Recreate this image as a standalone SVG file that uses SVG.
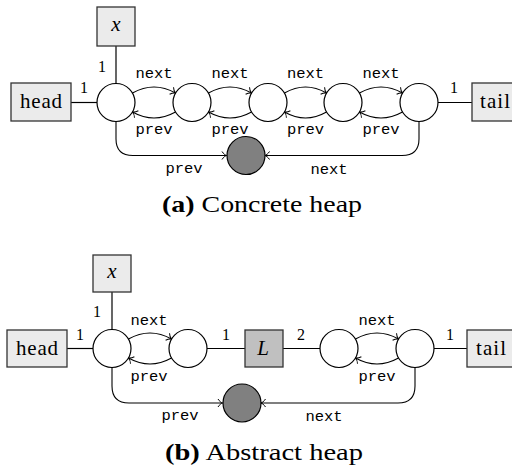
<svg xmlns="http://www.w3.org/2000/svg" width="512" height="467" viewBox="0 0 512 467">
  <defs>
    <marker id="to" markerUnits="userSpaceOnUse" markerWidth="12" markerHeight="12" refX="0" refY="0" viewBox="-8 -6 10 12" orient="auto" overflow="visible">
      <path d="M-4.5,-4 C-3,-1.6 -1.2,-0.4 0,0 C-1.2,0.4 -3,1.6 -4.5,4" fill="none" stroke="#000" stroke-width="1"/>
    </marker>
    <style>
      .cell { fill: #fff; stroke: #000; stroke-width: 1.2; }
      .nil { fill: #808080; stroke: #000; stroke-width: 1.2; }
      .var { fill: #ebebeb; stroke: #333; stroke-width: 1.3; }
      .sum { fill: #c0c0c0; stroke: #333; stroke-width: 1.3; }
      .edge { fill: none; stroke: #000; stroke-width: 1.2; }
      .ptr { fill: none; stroke: #000; stroke-width: 1.1; marker-end: url(#to); }
      .field { font-family: 'Liberation Mono', 'DejaVu Sans Mono', monospace; font-size: 15.5px; text-anchor: middle; fill: #000; }
      .name, .math, .mult, .cap { font-family: 'Liberation Serif', 'DejaVu Serif', 'Times New Roman', Times, serif; fill: #000; }
      .name { font-size: 21px; text-anchor: middle; }
      .math { font-style: italic; font-size: 21px; text-anchor: middle; }
      .mult { font-size: 16px; text-anchor: middle; }
      .cap { font-size: 24px; }
    </style>
  </defs>

  <!-- (a) concrete heap -->
  <g id="concrete-edges">
    <line class="edge" x1="116" y1="46" x2="116" y2="83.5"/>
    <line class="edge" x1="71" y1="102.5" x2="97" y2="102.5"/>
    <line class="edge" x1="438" y1="102.5" x2="472" y2="102.5"/>
    <path class="ptr" d="M132.5,93 Q154,81 175.5,93"/>
    <path class="ptr" d="M208.5,93 Q230,81 251.5,93"/>
    <path class="ptr" d="M284.5,93 Q305.5,81 326.5,93"/>
    <path class="ptr" d="M359.5,93 Q381,81 402.5,93"/>
    <path class="ptr" d="M175.5,112 Q154,124 132.5,112"/>
    <path class="ptr" d="M251.5,112 Q230,124 208.5,112"/>
    <path class="ptr" d="M326.5,112 Q305.5,124 284.5,112"/>
    <path class="ptr" d="M402.5,112 Q381,124 359.5,112"/>
    <path class="ptr" d="M116,121.5 V139 Q116,155.5 133,155.5 H226.5"/>
    <path class="ptr" d="M419,121.5 V139 Q419,155.5 402,155.5 H265"/>
  </g>
  <g id="concrete-labels">
    <text class="mult" x="102" y="72">1</text>
    <text class="mult" x="84" y="93">1</text>
    <text class="mult" x="454" y="93">1</text>
    <text class="field" x="154" y="78">next</text>
    <text class="field" x="230" y="78">next</text>
    <text class="field" x="305.5" y="78">next</text>
    <text class="field" x="381" y="78">next</text>
    <text class="field" x="154" y="134">prev</text>
    <text class="field" x="230" y="134">prev</text>
    <text class="field" x="305.5" y="134">prev</text>
    <text class="field" x="381" y="134">prev</text>
    <text class="field" x="184" y="173">prev</text>
    <text class="field" x="329" y="174">next</text>
  </g>
  <g id="a-x"><rect class="var" x="97" y="7" width="38" height="39"/><text class="math" x="116" y="31">x</text></g>
  <g id="a-head"><rect class="var" x="11" y="83" width="60" height="38"/><text class="name" x="41" y="108" textLength="42">head</text></g>
  <g id="a-tail"><rect class="var" x="472" y="83" width="50" height="38"/><text class="name" x="495" y="108" textLength="30">tail</text></g>
  <g id="a-n1"><circle class="cell" cx="116" cy="102.5" r="19"/></g>
  <g id="a-n2"><circle class="cell" cx="192" cy="102.5" r="19"/></g>
  <g id="a-n3"><circle class="cell" cx="268" cy="102.5" r="19"/></g>
  <g id="a-n4"><circle class="cell" cx="343" cy="102.5" r="19"/></g>
  <g id="a-n5"><circle class="cell" cx="419" cy="102.5" r="19"/></g>
  <g id="a-nil"><circle class="nil" cx="246" cy="155.5" r="19"/></g>
  <text class="cap" x="162" y="212" textLength="200" lengthAdjust="spacingAndGlyphs"><tspan font-weight="bold">(a)</tspan> Concrete heap</text>

  <!-- (b) abstract heap -->
  <g id="abstract-edges">
    <line class="edge" x1="112" y1="292" x2="112" y2="329.5"/>
    <line class="edge" x1="67" y1="348.5" x2="93" y2="348.5"/>
    <line class="edge" x1="207" y1="348.5" x2="245" y2="348.5"/>
    <line class="edge" x1="283" y1="348.5" x2="320" y2="348.5"/>
    <line class="edge" x1="434" y1="348.5" x2="467" y2="348.5"/>
    <path class="ptr" d="M128.5,339 Q150,327 171.5,339"/>
    <path class="ptr" d="M171.5,358 Q150,370 128.5,358"/>
    <path class="ptr" d="M355.5,339 Q377,327 398.5,339"/>
    <path class="ptr" d="M398.5,358 Q377,370 355.5,358"/>
    <path class="ptr" d="M112,367.5 V386 Q112,403 129,403 H222.5"/>
    <path class="ptr" d="M415,367.5 V386 Q415,403 398,403 H261"/>
  </g>
  <g id="abstract-labels">
    <text class="mult" x="97" y="317">1</text>
    <text class="mult" x="80" y="340">1</text>
    <text class="mult" x="226" y="340">1</text>
    <text class="mult" x="301" y="340">2</text>
    <text class="mult" x="450" y="340">1</text>
    <text class="field" x="149" y="325">next</text>
    <text class="field" x="149" y="381">prev</text>
    <text class="field" x="377" y="325">next</text>
    <text class="field" x="377" y="381">prev</text>
    <text class="field" x="180" y="420">prev</text>
    <text class="field" x="324" y="421">next</text>
  </g>
  <g id="b-x"><rect class="var" x="93" y="255" width="38" height="37"/><text class="math" x="112" y="278">x</text></g>
  <g id="b-head"><rect class="var" x="7" y="330" width="60" height="37"/><text class="name" x="37" y="355" textLength="42">head</text></g>
  <g id="b-tail"><rect class="var" x="467" y="330" width="50" height="37"/><text class="name" x="491" y="355" textLength="30">tail</text></g>
  <g id="b-n1"><circle class="cell" cx="112" cy="348.5" r="19"/></g>
  <g id="b-n2"><circle class="cell" cx="188" cy="348.5" r="19"/></g>
  <g id="b-L"><rect class="sum" x="245" y="330" width="38" height="37"/><text class="math" x="263" y="355">L</text></g>
  <g id="b-n3"><circle class="cell" cx="339" cy="348.5" r="19"/></g>
  <g id="b-n4"><circle class="cell" cx="415" cy="348.5" r="19"/></g>
  <g id="b-nil"><circle class="nil" cx="242" cy="403" r="19"/></g>
  <text class="cap" x="165" y="460" textLength="198" lengthAdjust="spacingAndGlyphs"><tspan font-weight="bold">(b)</tspan> Abstract heap</text>
</svg>
